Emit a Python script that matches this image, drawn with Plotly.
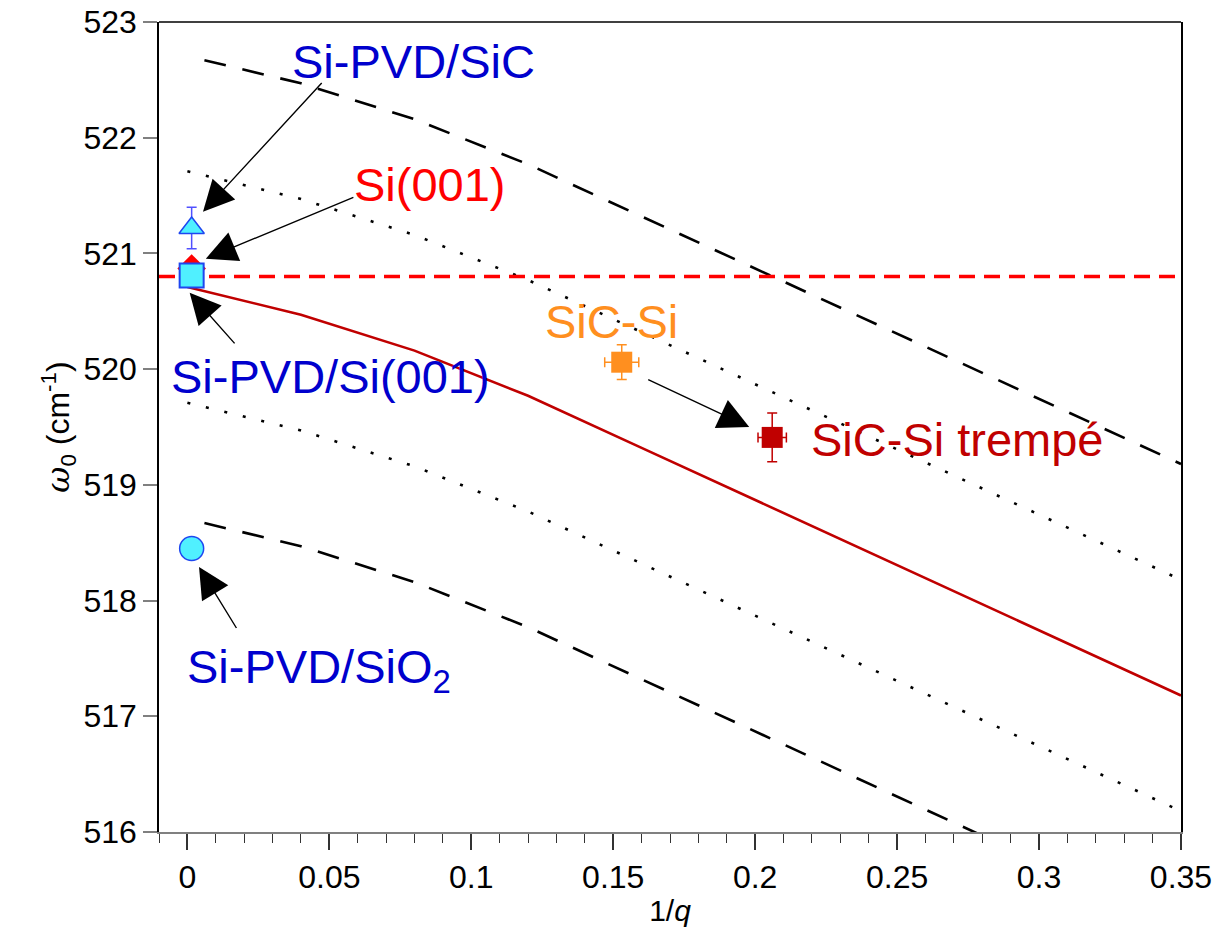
import plotly.graph_objects as go

# ---- data -------------------------------------------------------------
# model curve omega_0(1/q) and its +/-1 and +/-2 cm-1 envelopes
q_model = [0.0, 0.04, 0.08, 0.12, 0.16, 0.20, 0.24, 0.28, 0.32, 0.35]
w_model = [520.71, 520.47, 520.16, 519.77, 519.32, 518.87, 518.42, 517.97, 517.52, 517.18]
w_plus1 = [521.71, 521.47, 521.16, 520.77, 520.32, 519.87, 519.42, 518.97, 518.52, 518.18]
w_minus1 = [519.71, 519.47, 519.16, 518.77, 518.32, 517.87, 517.42, 516.97, 516.52, 516.18]

q_dash = [0.006, 0.04, 0.08, 0.12, 0.16, 0.20, 0.24, 0.28, 0.32, 0.35]
w_plus2 = [522.67, 522.47, 522.16, 521.77, 521.32, 520.87, 520.42, 519.97, 519.52, 519.18]
w_minus2 = [518.67, 518.47, 518.16, 517.77, 517.32, 516.87, 516.42, 515.97, 515.52, 515.18]

W_SI_BULK = 520.8  # bulk Si reference

# measured samples
q_sic_pvd, w_sic_pvd, e_sic_pvd = [0.0015], [521.22], [0.18]
q_si001, w_si001 = [0.0015], [520.87]
q_si_pvd_si, w_si_pvd_si = [0.0015], [520.81]
q_sio2, w_sio2 = [0.0015], [518.45]
q_sicsi, w_sicsi, ex_sicsi, ey_sicsi = [0.153], [520.06], [0.006], [0.15]
q_tremp, w_tremp, ex_tremp, ey_tremp = [0.206], [519.41], [0.005], [0.21]

X_RANGE = [-0.01, 0.35]
Y_RANGE = [516, 523]
y_ticks = [516, 517, 518, 519, 520, 521, 522, 523]
x_ticks = [0, 0.05, 0.1, 0.15, 0.2, 0.25, 0.3, 0.35]
x_tick_text = ["0", "0.05", "0.1", "0.15", "0.2", "0.25", "0.3", "0.35"]

FONT = "Liberation Sans, Arial, sans-serif"
BLUE = "#0000CD"
CYAN = "#50F0FF"
EDGE = "#1E46F0"
RED = "#FF0000"
DARKRED = "#C00000"
ORANGE = "#FF8F1F"

fig = go.Figure()

# envelopes
for xs, ys, dash in [(q_dash, w_plus2, "22px,17px"), (q_dash, w_minus2, "22px,17px"),
                     (q_model, w_plus1, "3px,16px"), (q_model, w_minus1, "3px,16px")]:
    fig.add_trace(go.Scatter(x=xs, y=ys, mode="lines",
                             line=dict(color="black", width=2.6, dash=dash),
                             hoverinfo="skip", showlegend=False))

# model
fig.add_trace(go.Scatter(x=q_model, y=w_model, mode="lines",
                         line=dict(color=DARKRED, width=2.6), showlegend=False))

# bulk Si reference line
fig.add_trace(go.Scatter(x=X_RANGE, y=[W_SI_BULK, W_SI_BULK], mode="lines",
                         line=dict(color=RED, width=3.5, dash="16px,9px"),
                         showlegend=False))

# samples
fig.add_trace(go.Scatter(x=q_sic_pvd, y=w_sic_pvd, mode="markers",
                         marker=dict(symbol="triangle-up", size=22, color=CYAN,
                                     line=dict(color=EDGE, width=1.5)),
                         error_y=dict(type="data", array=e_sic_pvd, color="#5050FF",
                                      thickness=1.5, width=5),
                         showlegend=False))
fig.add_trace(go.Scatter(x=q_si001, y=w_si001, mode="markers",
                         marker=dict(symbol="diamond", size=22, color=RED,
                                     line=dict(width=0)),
                         showlegend=False))
fig.add_trace(go.Scatter(x=q_si_pvd_si, y=w_si_pvd_si, mode="markers",
                         marker=dict(symbol="square", size=24, color=CYAN,
                                     line=dict(color=EDGE, width=2)),
                         showlegend=False))
fig.add_trace(go.Scatter(x=q_sio2, y=w_sio2, mode="markers",
                         marker=dict(symbol="circle", size=24, color=CYAN,
                                     line=dict(color=EDGE, width=1.5)),
                         showlegend=False))
fig.add_trace(go.Scatter(x=q_sicsi, y=w_sicsi, mode="markers",
                         marker=dict(symbol="square", size=21, color=ORANGE,
                                     line=dict(width=0)),
                         error_x=dict(type="data", array=ex_sicsi, color=ORANGE,
                                      thickness=1.5, width=5),
                         error_y=dict(type="data", array=ey_sicsi, color=ORANGE,
                                      thickness=1.5, width=5),
                         showlegend=False))
fig.add_trace(go.Scatter(x=q_tremp, y=w_tremp, mode="markers",
                         marker=dict(symbol="square", size=21, color=DARKRED,
                                     line=dict(width=0)),
                         error_x=dict(type="data", array=ex_tremp, color=DARKRED,
                                      thickness=1.5, width=5),
                         error_y=dict(type="data", array=ey_tremp, color=DARKRED,
                                      thickness=1.5, width=5),
                         showlegend=False))

# labels
labels = [
    ("Si-PVD/SiC", 0.0795, 522.66, BLUE),
    ("Si(001)", 0.0855, 521.60, RED),
    ("Si-PVD/Si(001)", 0.0503, 519.94, BLUE),
    ("Si-PVD/SiO<sub>2</sub>", 0.0465, 517.40, BLUE),
    ("SiC-Si", 0.1495, 520.41, ORANGE),
    ("SiC-Si trempé", 0.2714, 519.39, DARKRED),
]
for text, x, y, col in labels:
    fig.add_annotation(x=x, y=y, text=text, showarrow=False,
                       font=dict(family=FONT, size=47, color=col),
                       xanchor="center", yanchor="middle")

# arrows: (tip x, tip y, tail x, tail y)
arrows = [
    (0.0055, 521.36, 0.0478, 522.485),
    (0.0065, 520.955, 0.059, 521.49),
    (0.0008, 520.66, 0.0171, 520.21),
    (0.0041, 518.29, 0.0176, 517.75),
    (0.1979, 519.50, 0.1618, 519.915),
]
for x, y, ax, ay in arrows:
    fig.add_annotation(x=x, y=y, ax=ax, ay=ay, xref="x", yref="y",
                       axref="x", ayref="y", text="", showarrow=True,
                       arrowhead=2, arrowsize=4.4, arrowwidth=1.4,
                       arrowcolor="black", standoff=0, startstandoff=0)

# top frame line
fig.add_shape(type="line", xref="paper", yref="paper", x0=0, x1=1, y0=1, y1=1,
              line=dict(color="black", width=1.5))

fig.update_layout(
    width=1218, height=927,
    margin=dict(l=159, r=37, t=22, b=95),
    paper_bgcolor="white", plot_bgcolor="white",
    font=dict(family=FONT, color="black"),
    showlegend=False,
)
fig.update_xaxes(
    range=X_RANGE, tickvals=x_ticks, ticktext=x_tick_text,
    automargin=False,
    showgrid=False, zeroline=False,
    showline=True, linecolor="#808080", linewidth=1.5,
    ticks="outside", ticklen=16, tickwidth=1.5, tickcolor="#333333",
    tickfont=dict(size=32),
    minor=dict(dtick=0.01, tick0=0, ticks="outside", ticklen=9, tickwidth=1.2,
               tickcolor="#333333", showgrid=False),
    title=dict(text="1/<i>q</i>", font=dict(size=30), standoff=12),
)
fig.update_yaxes(
    range=Y_RANGE, tickvals=y_ticks,
    automargin=False,
    showgrid=False, zeroline=False,
    showline=True, linecolor="black", linewidth=1.5, mirror=True,
    ticks="outside", ticklen=14, tickwidth=1.5, tickcolor="#808080",
    tickfont=dict(size=32),
    title=dict(text="<span style=\"font-family:'DejaVu Serif'\"><i>ω</i></span><sub>0</sub> (cm<sup>-1</sup>)",
               font=dict(size=32), standoff=4),
)

fig.write_html("out.html")
